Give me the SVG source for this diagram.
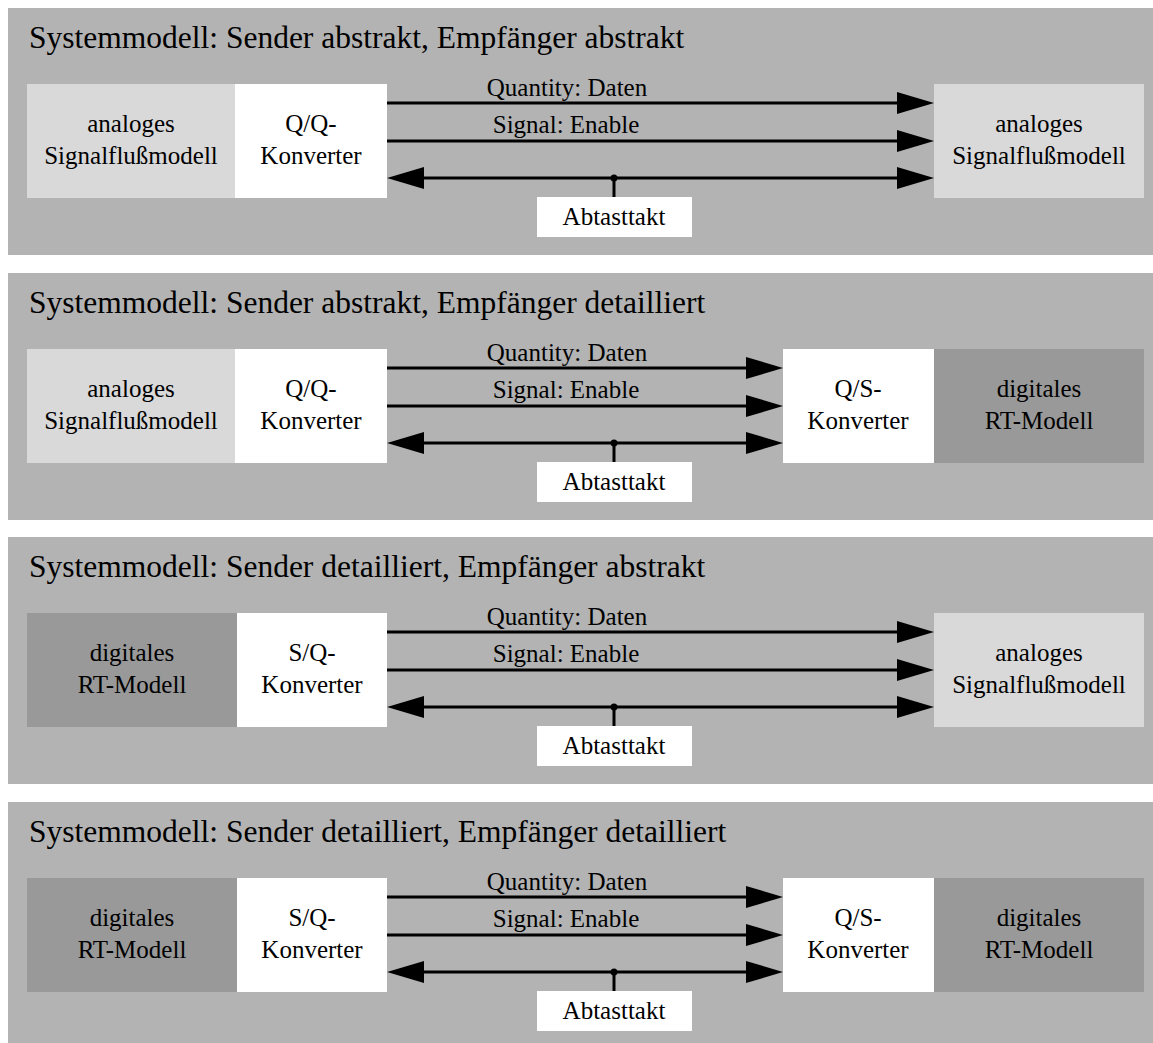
<svg xmlns="http://www.w3.org/2000/svg" width="1153" height="1043" viewBox="0 0 1153 1043">
  <style>
    .panel { fill: #b3b3b3; }
    .light { fill: #d9d9d9; }
    .dark { fill: #999999; }
    .white { fill: #ffffff; }
    .title { font-family: "Liberation Serif", "Times New Roman", serif; font-size: 31.5px; fill: #000000; }
    .lbl { font-family: "Liberation Serif", "Times New Roman", serif; font-size: 25px; text-anchor: middle; fill: #000000; }
    .wire { stroke: #000000; stroke-width: 3; fill: none; }
    .dot { fill: #000000; }
  </style>
  <defs>
    <marker id="head" viewBox="0 0 37 22" refX="1" refY="11" markerWidth="37" markerHeight="22" markerUnits="userSpaceOnUse" orient="auto-start-reverse">
      <path d="M0,0 L37,11 L0,22 Z" fill="#000000"/>
    </marker>
  </defs>

  <!-- Panel 1: sender abstract, receiver abstract -->
  <g id="panel1">
    <rect class="panel" x="8" y="8" width="1150" height="247"/>
    <text class="title" x="29" y="48">Systemmodell: Sender abstrakt, Empfänger abstrakt</text>
    <g id="p1-sender-model">
      <rect class="light" x="27" y="84" width="208" height="114"/>
      <text class="lbl" x="131" y="132">analoges</text>
      <text class="lbl" x="131" y="164">Signalflußmodell</text>
    </g>
    <g id="p1-sender-conv">
      <rect class="white" x="235" y="84" width="152" height="114"/>
      <text class="lbl" x="311" y="132">Q/Q-</text>
      <text class="lbl" x="311" y="164">Konverter</text>
    </g>
    <g id="p1-receiver-model">
      <rect class="light" x="934" y="84" width="210" height="114"/>
      <text class="lbl" x="1039" y="132">analoges</text>
      <text class="lbl" x="1039" y="164">Signalflußmodell</text>
    </g>
    <g id="p1-clock">
      <rect class="white" x="537" y="197" width="155" height="40"/>
      <text class="lbl" x="614" y="225">Abtasttakt</text>
    </g>
    <g id="p1-connectors">
      <line class="wire" x1="387" y1="103" x2="898" y2="103" marker-end="url(#head)"/>
      <text class="lbl" x="567" y="96">Quantity: Daten</text>
      <line class="wire" x1="387" y1="141" x2="898" y2="141" marker-end="url(#head)"/>
      <text class="lbl" x="566" y="133">Signal: Enable</text>
      <line class="wire" x1="423" y1="178" x2="898" y2="178" marker-start="url(#head)" marker-end="url(#head)"/>
      <circle class="dot" cx="614" cy="178" r="3.5"/>
      <line class="wire" x1="614" y1="178" x2="614" y2="197"/>
    </g>
  </g>

  <!-- Panel 2: sender abstract, receiver detailed -->
  <g id="panel2" transform="translate(0,265)">
    <rect class="panel" x="8" y="8" width="1150" height="247"/>
    <text class="title" x="29" y="48">Systemmodell: Sender abstrakt, Empfänger detailliert</text>
    <g id="p2-sender-model">
      <rect class="light" x="27" y="84" width="208" height="114"/>
      <text class="lbl" x="131" y="132">analoges</text>
      <text class="lbl" x="131" y="164">Signalflußmodell</text>
    </g>
    <g id="p2-sender-conv">
      <rect class="white" x="235" y="84" width="152" height="114"/>
      <text class="lbl" x="311" y="132">Q/Q-</text>
      <text class="lbl" x="311" y="164">Konverter</text>
    </g>
    <g id="p2-receiver-conv">
      <rect class="white" x="783" y="84" width="151" height="114"/>
      <text class="lbl" x="858" y="132">Q/S-</text>
      <text class="lbl" x="858" y="164">Konverter</text>
    </g>
    <g id="p2-receiver-model">
      <rect class="dark" x="934" y="84" width="210" height="114"/>
      <text class="lbl" x="1039" y="132">digitales</text>
      <text class="lbl" x="1039" y="164">RT-Modell</text>
    </g>
    <g id="p2-clock">
      <rect class="white" x="537" y="197" width="155" height="40"/>
      <text class="lbl" x="614" y="225">Abtasttakt</text>
    </g>
    <g id="p2-connectors">
      <line class="wire" x1="387" y1="103" x2="747" y2="103" marker-end="url(#head)"/>
      <text class="lbl" x="567" y="96">Quantity: Daten</text>
      <line class="wire" x1="387" y1="141" x2="747" y2="141" marker-end="url(#head)"/>
      <text class="lbl" x="566" y="133">Signal: Enable</text>
      <line class="wire" x1="423" y1="178" x2="747" y2="178" marker-start="url(#head)" marker-end="url(#head)"/>
      <circle class="dot" cx="614" cy="178" r="3.5"/>
      <line class="wire" x1="614" y1="178" x2="614" y2="197"/>
    </g>
  </g>

  <!-- Panel 3: sender detailed, receiver abstract -->
  <g id="panel3" transform="translate(0,529)">
    <rect class="panel" x="8" y="8" width="1150" height="247"/>
    <text class="title" x="29" y="48">Systemmodell: Sender detailliert, Empfänger abstrakt</text>
    <g id="p3-sender-model">
      <rect class="dark" x="27" y="84" width="210" height="114"/>
      <text class="lbl" x="132" y="132">digitales</text>
      <text class="lbl" x="132" y="164">RT-Modell</text>
    </g>
    <g id="p3-sender-conv">
      <rect class="white" x="237" y="84" width="150" height="114"/>
      <text class="lbl" x="312" y="132">S/Q-</text>
      <text class="lbl" x="312" y="164">Konverter</text>
    </g>
    <g id="p3-receiver-model">
      <rect class="light" x="934" y="84" width="210" height="114"/>
      <text class="lbl" x="1039" y="132">analoges</text>
      <text class="lbl" x="1039" y="164">Signalflußmodell</text>
    </g>
    <g id="p3-clock">
      <rect class="white" x="537" y="197" width="155" height="40"/>
      <text class="lbl" x="614" y="225">Abtasttakt</text>
    </g>
    <g id="p3-connectors">
      <line class="wire" x1="387" y1="103" x2="898" y2="103" marker-end="url(#head)"/>
      <text class="lbl" x="567" y="96">Quantity: Daten</text>
      <line class="wire" x1="387" y1="141" x2="898" y2="141" marker-end="url(#head)"/>
      <text class="lbl" x="566" y="133">Signal: Enable</text>
      <line class="wire" x1="423" y1="178" x2="898" y2="178" marker-start="url(#head)" marker-end="url(#head)"/>
      <circle class="dot" cx="614" cy="178" r="3.5"/>
      <line class="wire" x1="614" y1="178" x2="614" y2="197"/>
    </g>
  </g>

  <!-- Panel 4: sender detailed, receiver detailed -->
  <g id="panel4" transform="translate(0,794)">
    <rect class="panel" x="8" y="8" width="1150" height="247"/>
    <text class="title" x="29" y="48">Systemmodell: Sender detailliert, Empfänger detailliert</text>
    <g id="p4-sender-model">
      <rect class="dark" x="27" y="84" width="210" height="114"/>
      <text class="lbl" x="132" y="132">digitales</text>
      <text class="lbl" x="132" y="164">RT-Modell</text>
    </g>
    <g id="p4-sender-conv">
      <rect class="white" x="237" y="84" width="150" height="114"/>
      <text class="lbl" x="312" y="132">S/Q-</text>
      <text class="lbl" x="312" y="164">Konverter</text>
    </g>
    <g id="p4-receiver-conv">
      <rect class="white" x="783" y="84" width="151" height="114"/>
      <text class="lbl" x="858" y="132">Q/S-</text>
      <text class="lbl" x="858" y="164">Konverter</text>
    </g>
    <g id="p4-receiver-model">
      <rect class="dark" x="934" y="84" width="210" height="114"/>
      <text class="lbl" x="1039" y="132">digitales</text>
      <text class="lbl" x="1039" y="164">RT-Modell</text>
    </g>
    <g id="p4-clock">
      <rect class="white" x="537" y="197" width="155" height="40"/>
      <text class="lbl" x="614" y="225">Abtasttakt</text>
    </g>
    <g id="p4-connectors">
      <line class="wire" x1="387" y1="103" x2="747" y2="103" marker-end="url(#head)"/>
      <text class="lbl" x="567" y="96">Quantity: Daten</text>
      <line class="wire" x1="387" y1="141" x2="747" y2="141" marker-end="url(#head)"/>
      <text class="lbl" x="566" y="133">Signal: Enable</text>
      <line class="wire" x1="423" y1="178" x2="747" y2="178" marker-start="url(#head)" marker-end="url(#head)"/>
      <circle class="dot" cx="614" cy="178" r="3.5"/>
      <line class="wire" x1="614" y1="178" x2="614" y2="197"/>
    </g>
  </g>
</svg>
